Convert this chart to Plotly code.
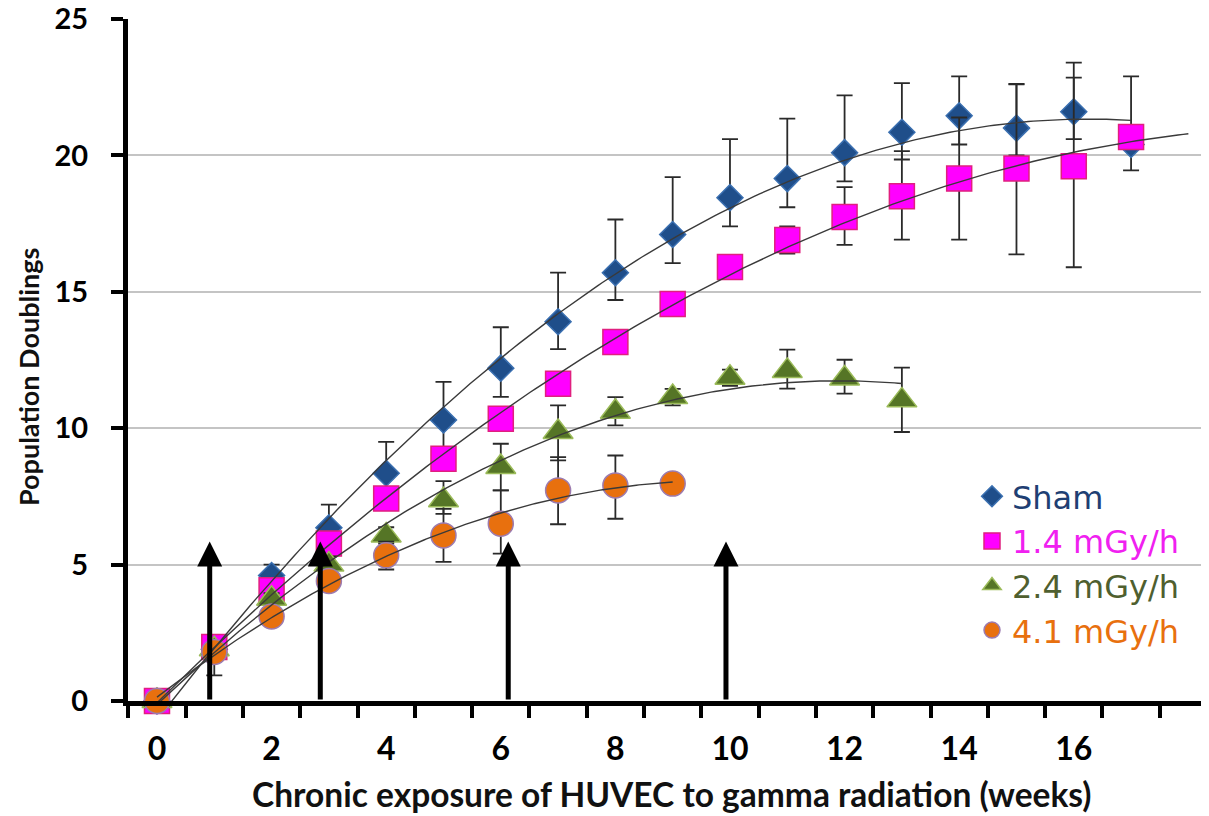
import numpy as np
import plotly.graph_objects as go

# ---------------- data ----------------
weeks_sham = list(range(0, 18))
sham = [0, 1.9, 4.6, 6.35, 8.35, 10.3, 12.2, 13.9, 15.7, 17.1, 18.45, 19.15,
        20.1, 20.85, 21.45, 21.0, 21.6, 20.4]
sham_err_up = [0, 0.4, 0.4, 0.85, 1.15, 1.4, 1.5, 1.8, 1.95, 2.1, 2.15, 2.2,
               2.1, 1.8, 1.45, 1.6, 1.8, 2.5]
sham_err_dn = [0, 0.4, 0.4, 0.5, 0.9, 1.0, 1.05, 1.0, 1.0, 1.05, 1.05, 1.05,
               1.05, 1.0, 1.05, 1.0, 1.0, 0.95]

weeks_14 = list(range(0, 18))
dose_14 = [0, 1.98, 4.06, 5.77, 7.42, 8.88, 10.35, 11.63, 13.16, 14.55, 15.91,
           16.9, 17.74, 18.5, 19.15, 19.52, 19.6, 20.67]
dose_14_err_up = [0, 0.3, 0.3, 0.3, 0.3, 0.3, 0.3, 0.3, 0.3, 0.3, 0.4, 0.5,
                  1.1, 1.66, 2.24, 3.1, 3.25, 0.4]
dose_14_err_dn = [0, 0.3, 0.3, 0.3, 0.3, 0.3, 0.3, 0.3, 0.3, 0.3, 0.4, 0.5,
                  1.02, 1.59, 2.24, 3.15, 3.7, 0.4]

weeks_24 = list(range(0, 14))
dose_24 = [0, 1.9, 3.75, 5.0, 6.07, 7.36, 8.58, 9.86, 10.6, 11.14, 11.85, 12.1,
           11.82, 11.02]
dose_24_err_up = [0, 0.2, 0.2, 0.3, 0.3, 0.7, 0.85, 0.98, 0.54, 0.3, 0.3, 0.78,
                  0.69, 1.2]
dose_24_err_dn = [0, 0.2, 0.2, 0.3, 0.3, 0.5, 0.86, 1.04, 0.5, 0.3, 0.3, 0.65,
                  0.55, 1.16]

weeks_41 = list(range(0, 10))
dose_41 = [0, 1.8, 3.1, 4.4, 5.34, 6.07, 6.5, 7.72, 7.9, 7.97]
dose_41_err_up = [0, 0.3, 0.3, 0.3, 0.5, 0.97, 1.22, 1.22, 1.1, 0.2]
dose_41_err_dn = [0, 0.86, 0.3, 0.3, 0.52, 0.97, 1.1, 1.24, 1.22, 0.2]

# trend-line extents (weeks) - the 1.4 mGy/h fit is forecast one week further
trend_end = {"sham": 17, "d14": 18, "d24": 13, "d41": 9}

# arrows marking the reference time points (weeks) and their tip height
arrow_weeks = [0.92, 2.85, 6.13, 9.93]
arrow_tip = 5.85

x_ticks = [0, 2, 4, 6, 8, 10, 12, 14, 16]
y_ticks = [0, 5, 10, 15, 20, 25]

# ---------------- figure ----------------
# the page body has an 8 px margin, so the figure is drawn 8 px smaller
W, H = 1201, 808
L, T, B = 120, 11, 115
PW, PH = W - L, H - T - B

LABEL_FONT = "Lato"
fig = go.Figure()

series = [
    ("Sham", weeks_sham, sham, sham_err_up, sham_err_dn, "diamond", 20,
     "#1F4E8A", "#3A6FB0", "#1F3F73", "sham"),
    ("1.4 mGy/h", weeks_14, dose_14, dose_14_err_up, dose_14_err_dn, "square", 25,
     "#FF00FF", "#E0207F", "#F020F0", "d14"),
    ("2.4 mGy/h", weeks_24, dose_24, dose_24_err_up, dose_24_err_dn, "triangle-up", 26,
     "#557526", "#9BBB59", "#4F5F2F", "d24"),
    ("4.1 mGy/h", weeks_41, dose_41, dose_41_err_up, dose_41_err_dn, "circle", 25,
     "#E8700E", "#9C7BB0", "#E8700E", "d41"),
]

for name, xs, ys, eu, ed, sym, size, fill, edge, txtcol, key in series:
    fig.add_trace(go.Scatter(
        x=xs, y=ys, mode="markers", cliponaxis=False,
        name=f"<span style='color:{txtcol}'>{name}</span>",
        marker=dict(symbol=sym, size=size, color=fill,
                    line=dict(color=edge, width=1.5)),
        error_y=dict(type="data", symmetric=False, array=eu, arrayminus=ed,
                     color="#2a2a2a", thickness=1.8, width=8),
    ))

# polynomial trend lines (order 2), fitted to each series
for name, xs, ys, eu, ed, sym, size, fill, edge, txtcol, key in series:
    coef = np.polyfit(np.array(xs, float), np.array(ys, float), 2)
    xf = np.linspace(0, trend_end[key], 200)
    fig.add_trace(go.Scatter(
        x=xf, y=np.polyval(coef, xf), mode="lines", showlegend=False,
        hoverinfo="skip", cliponaxis=False,
        line=dict(color="#3a3a3a", width=1.4),
    ))

for xa in arrow_weeks:
    fig.add_annotation(
        x=xa, y=arrow_tip, ax=xa, ay=0, xref="x", yref="y", axref="x", ayref="y",
        showarrow=True, arrowhead=2, arrowsize=1, arrowwidth=5,
        arrowcolor="black", text="", standoff=0,
    )


def px_x(page_x):
    return (page_x - 8 - L) / PW


def px_y(page_y):
    return (H - B - (page_y - 8)) / PH


# axis titles
fig.add_annotation(
    text="Population Doublings", textangle=-90, showarrow=False,
    xref="paper", yref="paper", x=px_x(28), y=px_y(377),
    xanchor="center", yanchor="middle",
    font=dict(family=LABEL_FONT, size=27, color="#111111", weight="bold"),
)
fig.add_annotation(
    text="Chronic exposure of HUVEC to gamma radiation (weeks)", showarrow=False,
    xref="paper", yref="paper", x=px_x(671.5), y=px_y(815.5),
    xanchor="center", yanchor="bottom",
    font=dict(family=LABEL_FONT, size=33.5, color="#111111", weight="bold"),
)

fig.update_layout(
    width=W, height=H,
    margin=dict(l=L, r=0, t=T, b=B, pad=0, autoexpand=False),
    paper_bgcolor="white", plot_bgcolor="white",
    showlegend=True,
    legend=dict(
        x=px_x(972), y=px_y(469), xanchor="left", yanchor="top",
        bgcolor="rgba(0,0,0,0)", borderwidth=0, itemsizing="trace",
        font=dict(family="DejaVu Sans", size=32),
    ),
    xaxis=dict(
        range=[-0.506, 18.36], tickmode="array", tickvals=x_ticks,
        ticks="", showgrid=False, zeroline=False, automargin=False,
        showline=True, linecolor="black", linewidth=5,
        tickfont=dict(family=LABEL_FONT, size=32, color="black", weight="bold"),
        ticklabelstandoff=16, ticklabeloverflow="allow",
        minor=dict(tickmode="linear", tick0=0.5, dtick=1, ticks="outside",
                   ticklen=12, tickwidth=4, tickcolor="black", showgrid=False),
    ),
    yaxis=dict(
        range=[0, 25], tickmode="array", tickvals=y_ticks,
        ticks="outside", ticklen=12, tickwidth=4, tickcolor="black",
        showgrid=True, gridcolor="#c4c4c4", gridwidth=2, zeroline=False,
        automargin=False,
        showline=True, linecolor="black", linewidth=5,
        tickfont=dict(family=LABEL_FONT, size=29, color="black", weight="bold"),
        ticklabelstandoff=17, ticklabeloverflow="allow",
    ),
)

fig.write_html("out.html")
